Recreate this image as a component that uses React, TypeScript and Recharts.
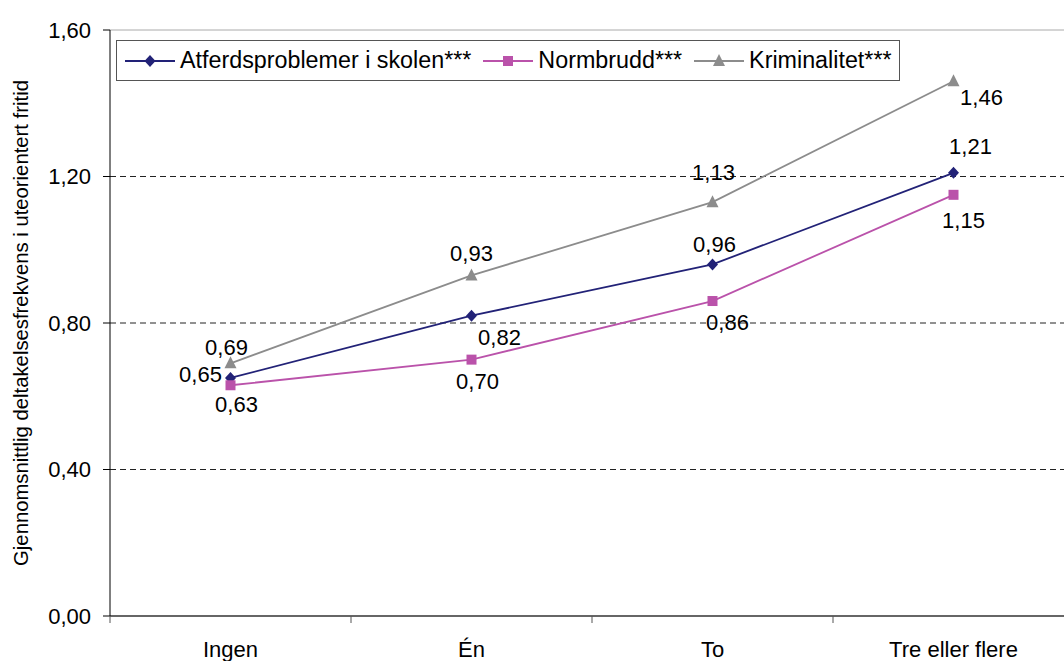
import React from 'react';
import { LineChart, Line, XAxis, YAxis, ReferenceLine } from 'recharts';

const categories = ['Ingen', 'Én', 'To', 'Tre eller flere'];
const atferd = [0.65, 0.82, 0.96, 1.21];
const normbrudd = [0.63, 0.7, 0.86, 1.15];
const kriminalitet = [0.69, 0.93, 1.13, 1.46];
const yTicks = [0, 0.4, 0.8, 1.2, 1.6];

const FONT = '"Liberation Sans", Arial, sans-serif';
const PLOT_W = 964;
const BAND = PLOT_W / categories.length;

// label offsets (dx, dy from the point) per series, to mimic the original placement
const series = [
  { key: 'atferd', name: 'Atferdsproblemer i skolen***', color: '#222277', shape: 'diamond', offsets: [[-30, -4], [28, 21], [2, -20], [17, -27]] },
  { key: 'normbrudd', name: 'Normbrudd***', color: '#BA52AA', shape: 'square', offsets: [[6, 19], [6, 21], [15, 21], [10, 25]] },
  { key: 'kriminalitet', name: 'Kriminalitet***', color: '#8C8C8C', shape: 'triangle', offsets: [[-4, -16], [0, -22], [1, -30], [28, 16]] },
];

const data = categories.map((c, i) => ({
  name: c,
  atferd: atferd[i],
  normbrudd: normbrudd[i],
  kriminalitet: kriminalitet[i],
}));

const fmt = (v: number) => v.toFixed(2).replace('.', ',');

function Marker({ cx, cy, shape, color }: any) {
  if (cx == null || cy == null) return null;
  if (shape === 'diamond') {
    return <polygon points={`${cx},${cy - 6} ${cx + 5.5},${cy} ${cx},${cy + 6} ${cx - 5.5},${cy}`} fill={color} />;
  }
  if (shape === 'square') {
    return <rect x={cx - 5} y={cy - 5} width={10} height={10} fill={color} />;
  }
  return <polygon points={`${cx},${cy - 7} ${cx + 6},${cy + 5} ${cx - 6},${cy + 5}`} fill={color} />;
}

function XTick({ x, y, payload }: any) {
  return (
    <g>
      <line x1={x - BAND / 2} x2={x - BAND / 2} y1={616} y2={623} stroke="#555" />
      <text x={x} y={y + 33} textAnchor="middle" fontSize={22} fontFamily={FONT} fill="#000">
        {payload.value}
      </text>
    </g>
  );
}

function LegendBox() {
  return (
    <div
      style={{
        position: 'absolute', left: 116, top: 40, width: 784, height: 41,
        border: '1px solid #555', background: '#fff', display: 'flex', alignItems: 'center',
        paddingLeft: 8, boxSizing: 'border-box', fontFamily: FONT, fontSize: 23.3, color: '#000',
      }}
    >
      {series.map((s) => (
        <div key={s.key} style={{ display: 'flex', alignItems: 'center', marginRight: 12 }}>
          <svg width={50} height={16} style={{ marginRight: 5 }}>
            <line x1={0} x2={50} y1={8} y2={8} stroke={s.color} strokeWidth={2} />
            <Marker cx={25} cy={8} shape={s.shape} color={s.color} />
          </svg>
          <span style={{ whiteSpace: 'nowrap' }}>{s.name}</span>
        </div>
      ))}
    </div>
  );
}

export default function App() {
  return (
    <div style={{ position: 'absolute', left: 0, top: 0, width: 1064, height: 661, overflow: 'hidden', background: '#fff' }}>
      <LineChart width={1090} height={661} data={data} margin={{ top: 30, right: 16, bottom: 0, left: 0 }}>
        <ReferenceLine y={1.6} stroke="#aaa" />
        {[0.4, 0.8, 1.2].map((v) => (
          <ReferenceLine key={v} y={v} stroke="#222" strokeDasharray="6 4" />
        ))}
        <XAxis
          dataKey="name"
          scale="band"
          height={45}
          axisLine={{ stroke: '#333', strokeWidth: 1.5 }}
          tickLine={false}
          tick={<XTick />}
          interval={0}
        />
        <YAxis
          width={110}
          domain={[0, 1.6]}
          ticks={yTicks}
          interval={0}
          tickFormatter={fmt}
          axisLine={{ stroke: '#000' }}
          tickLine={{ stroke: '#000' }}
          tickSize={7}
          tickMargin={12}
          tick={{ fontSize: 22, fontFamily: FONT, fill: '#000' }}
          label={{
            value: 'Gjennomsnittlig deltakelsesfrekvens i uteorientert fritid',
            angle: -90,
            position: 'insideLeft',
            offset: 21,
            style: { fontSize: 20.3, fontFamily: FONT, fill: '#000', textAnchor: 'middle' },
          }}
        />
        {series.map((s) => (
          <Line
            key={s.key}
            dataKey={s.key}
            name={s.name}
            stroke={s.color}
            strokeWidth={1.8}
            isAnimationActive={false}
            dot={(p: any) => <Marker key={`${s.key}-${p.index}`} cx={p.cx} cy={p.cy} shape={s.shape} color={s.color} />}
            activeDot={false}
            label={(p: any) => {
              const [dx, dy] = s.offsets[p.index] || [0, 0];
              return (
                <text
                  key={`${s.key}-l-${p.index}`}
                  x={p.x + dx}
                  y={p.y + dy + 8}
                  textAnchor="middle"
                  fontSize={22}
                  fontFamily={FONT}
                  fill="#000"
                >
                  {fmt(p.value)}
                </text>
              );
            }}
          />
        ))}
      </LineChart>
      <LegendBox />
    </div>
  );
}
